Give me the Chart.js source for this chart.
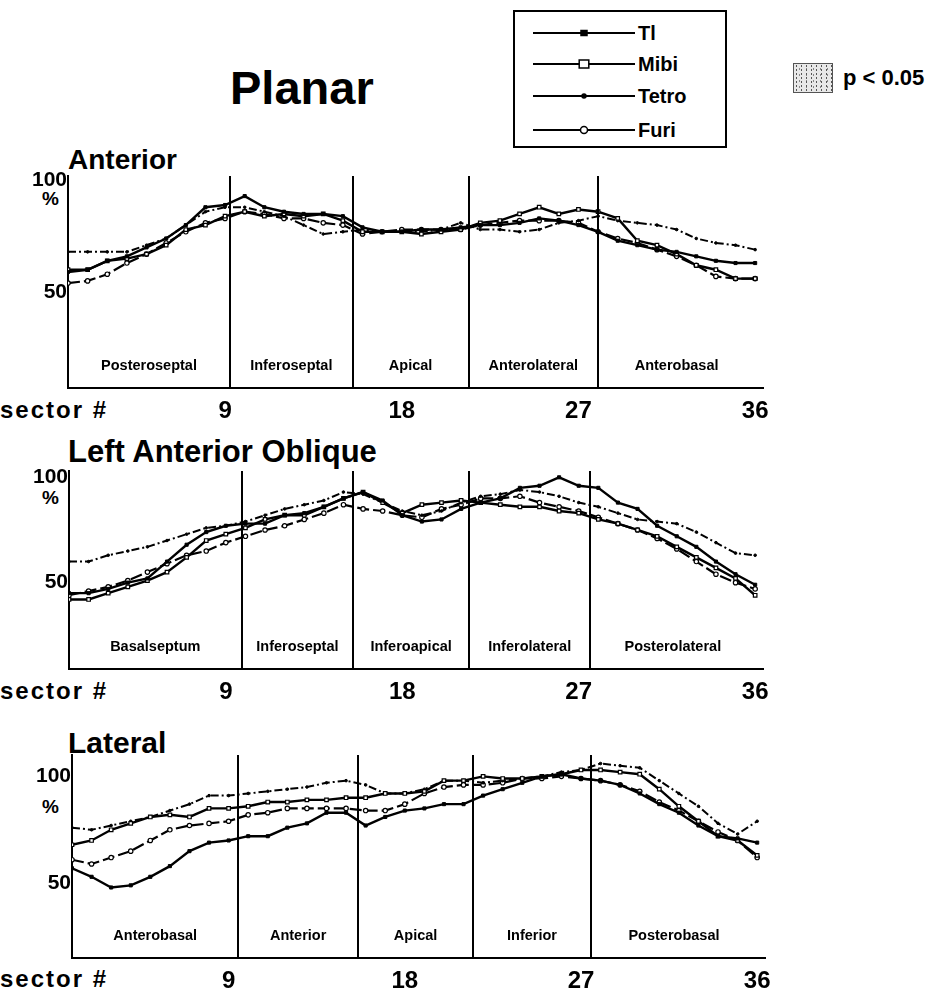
<!DOCTYPE html>
<html>
<head>
<meta charset="utf-8">
<script src="https://cdn.jsdelivr.net/npm/chart.js@4.4.1/dist/chart.umd.min.js"></script>
<style>
  body { margin: 0; width: 926px; height: 990px; background: #fff; position: relative; overflow: hidden;
         font-family: "Liberation Sans", Arial, sans-serif; font-weight: bold; color: #000; }
  .t { position: absolute; white-space: nowrap; line-height: 1; }
  canvas { position: absolute; left: 0; }
  #legend { position: absolute; left: 513px; top: 10px; width: 210px; height: 134px; border: 2px solid #000; }
  #pbox { position: absolute; left: 793px; top: 63px; width: 38px; height: 28px; border: 1px solid #555;
          background-color: #e8e8e8;
          background-image: radial-gradient(#555 0.7px, transparent 1px), radial-gradient(#888 0.6px, transparent 1px);
          background-size: 5px 4px, 7px 6px; background-position: 0 0, 2px 2px; }
</style>
</head>
<body>

<div class="t" style="left:230px;top:64px;font-size:47px">Planar</div>

<div id="legend"></div>
<div id="pbox"></div>
<div class="t" style="left:843px;top:67px;font-size:22px">p &lt; 0.05</div>

<div class="t" style="left:68px;top:146px;font-size:28px">Anterior</div>
<div class="t" style="left:68px;top:436px;font-size:31px">Left Anterior Oblique</div>
<div class="t" style="left:68px;top:728px;font-size:30px">Lateral</div>

<div class="t" style="left:42px;top:189px;font-size:19px">%</div>
<div class="t" style="left:42px;top:488px;font-size:19px">%</div>
<div class="t" style="left:42px;top:797px;font-size:19px">%</div>

<div class="t" style="left:0px;top:398px;font-size:24px;letter-spacing:2px">sector #</div>
<div class="t" style="left:0px;top:679px;font-size:24px;letter-spacing:2px">sector #</div>
<div class="t" style="left:0px;top:967px;font-size:24px;letter-spacing:2px">sector #</div>

<canvas id="anterior"></canvas>
<canvas id="lao"></canvas>
<canvas id="lateral"></canvas>

<script>
// sector numbers and axis ticks
const sectors = [1,2,3,4,5,6,7,8,9,10,11,12,13,14,15,16,17,18,19,20,21,22,23,24,25,26,27,28,29,30,31,32,33,34,35,36];
const sectorTicks = [9, 18, 27, 36];
const percentTicks = [50, 100];
const seriesNames = ["Tl", "Mibi", "Tetro", "Furi"];

// Anterior
const anteriorTl    = [59,60,64,66,70,74,80,88,89,93,88,86,85,85,84,79,77,77,78,78,79,80,80,81,83,82,80,77,73,71,69,68,66,64,63,63];
const anteriorMibi  = [60,60,64,65,67,71,78,80,84,86,84,85,84,85,82,77,77,77,76,77,78,81,82,85,88,85,87,86,83,73,71,67,62,60,56,56];
const anteriorTetro = [68,68,68,68,71,74,80,86,88,88,86,84,80,76,77,78,77,77,77,78,81,78,78,77,78,81,82,84,82,81,80,78,74,72,71,69];
const anteriorFuri  = [54,55,58,63,67,72,77,81,83,86,85,83,83,81,80,76,77,78,78,78,78,80,81,82,82,82,81,77,74,72,69,66,62,57,56,56];
const anteriorBounds = [9.25, 15.5, 21.4, 28];
const anteriorRegions = ["Posteroseptal", "Inferoseptal", "Apical", "Anterolateral", "Anterobasal"];

// Left Anterior Oblique
const laoTl    = [45,45,47,50,52,60,68,74,77,78,78,82,83,86,90,93,89,82,79,80,85,88,90,95,96,100,96,95,88,85,77,72,67,60,54,49];
const laoMibi  = [42,42,45,48,51,55,62,70,73,76,80,82,82,86,90,93,88,83,87,88,89,88,87,86,86,84,83,80,78,75,72,67,62,57,52,44];
const laoTetro = [60,60,63,65,67,70,73,76,77,79,82,85,87,89,93,92,88,84,82,84,88,91,92,94,93,91,88,86,83,80,79,78,74,69,64,63];
const laoFuri  = [44,46,48,51,55,59,63,65,69,72,75,77,80,83,87,85,84,82,81,85,87,90,90,91,88,86,84,81,78,75,71,66,60,54,50,47];
const laoBounds = [9.8, 15.5, 21.4, 27.6];
const laoRegions = ["Basalseptum", "Inferoseptal", "Inferoapical", "Inferolateral", "Posterolateral"];

// Lateral
const lateralTl    = [57,53,48,49,53,58,65,69,70,72,72,76,78,83,83,77,81,84,85,87,87,91,94,97,100,101,99,98,96,92,87,83,77,72,71,69];
const lateralMibi  = [68,70,75,78,81,82,81,85,85,86,88,88,89,89,90,90,92,92,93,98,98,100,99,99,100,101,103,103,102,101,94,86,79,72,70,63];
const lateralTetro = [76,75,77,79,81,84,87,91,91,92,93,94,95,97,98,96,92,92,94,98,98,97,98,99,100,102,103,106,105,104,98,92,86,78,73,79];
const lateralFuri  = [61,59,62,65,70,75,77,78,79,82,83,85,85,85,85,84,84,87,92,95,96,96,97,99,99,100,99,98,96,93,88,84,79,74,70,62];
const lateralBounds = [9.5, 15.6, 21.5, 27.5];
const lateralRegions = ["Anterobasal", "Anterior", "Apical", "Inferior", "Posterobasal"];

const FONT = '"Liberation Sans", Arial, sans-serif';

const styles = {
  Tl:    { borderWidth: 2.4, borderDash: [],          pointStyle: "rect",   pointRadius: 2.2, pointBackgroundColor: "#000", pointBorderWidth: 1 },
  Mibi:  { borderWidth: 2.4, borderDash: [],          pointStyle: "rect",   pointRadius: 2.5, pointBackgroundColor: "#fff", pointBorderWidth: 1.2 },
  Tetro: { borderWidth: 2,   borderDash: [8, 3, 2, 3], pointStyle: "circle", pointRadius: 1.3, pointBackgroundColor: "#000", pointBorderWidth: 1 },
  Furi:  { borderWidth: 2.2, borderDash: [12, 4],     pointStyle: "circle", pointRadius: 2.2, pointBackgroundColor: "#fff", pointBorderWidth: 1.2 }
};

// vertical separators and region names
const regionPlugin = {
  id: "regions",
  afterDatasetsDraw(chart, args, opts) {
    const { ctx, chartArea: a, scales: { x } } = chart;
    ctx.save();
    ctx.strokeStyle = "#000";
    ctx.lineWidth = 2;
    opts.bounds.forEach(b => {
      const px = Math.round(x.getPixelForValue(b));
      ctx.beginPath(); ctx.moveTo(px, a.top); ctx.lineTo(px, a.bottom); ctx.stroke();
    });
    const edges = [sectors[0]].concat(opts.bounds, [sectors[sectors.length - 1]]);
    ctx.fillStyle = "#000";
    ctx.font = "bold 14.5px " + FONT;
    ctx.textAlign = "center";
    ctx.textBaseline = "middle";
    opts.names.forEach((n, i) => {
      const cx = (x.getPixelForValue(edges[i]) + x.getPixelForValue(edges[i + 1])) / 2;
      ctx.fillText(n, cx, a.bottom - 22);
    });
    ctx.restore();
  }
};

function makePanel(id, g, series, bounds, names) {
  const padTop = 20, xAxisH = 45;
  const canvas = document.getElementById(id);
  canvas.width = 926;
  canvas.height = padTop + (g.bottom - g.top) + xAxisH;
  canvas.style.top = (g.top - padTop) + "px";

  const datasets = seriesNames.map((name, k) => Object.assign({
    label: name,
    data: series[k].map((v, i) => ({ x: sectors[i], y: v })),
    borderColor: "#000",
    pointBorderColor: "#000",
    tension: 0,
    fill: false
  }, styles[name]));

  new Chart(canvas, {
    type: "line",
    data: { datasets },
    options: {
      responsive: false,
      animation: false,
      devicePixelRatio: 1,
      layout: { padding: { top: padTop, left: 0, right: 926 - g.right, bottom: 0 } },
      plugins: { legend: { display: false }, tooltip: { enabled: false }, regions: { bounds, names } },
      scales: {
        x: {
          type: "linear", min: sectors[0], max: 36.4,
          grid: { display: false, drawTicks: false },
          border: { display: true, color: "#000", width: 2 },
          afterBuildTicks: s => { s.ticks = sectorTicks.map(v => ({ value: v })); },
          afterFit: s => { s.height = xAxisH; },
          ticks: { color: "#000", font: { family: FONT, size: 24, weight: "bold" }, padding: 9, maxRotation: 0, autoSkip: false }
        },
        y: {
          min: g.yMin, max: g.yMax,
          grid: { display: false, drawTicks: false },
          border: { display: true, color: "#000", width: 2 },
          afterBuildTicks: s => { s.ticks = percentTicks.map(v => ({ value: v })); },
          afterFit: s => { s.width = g.left; },
          ticks: { color: "#000", font: { family: FONT, size: 21, weight: "bold" }, padding: 1 }
        }
      }
    },
    plugins: [regionPlugin]
  });
}

makePanel("anterior", { left: 68, right: 763, top: 175.5, bottom: 388, yMin: 7, yMax: 102 },
  [anteriorTl, anteriorMibi, anteriorTetro, anteriorFuri], anteriorBounds, anteriorRegions);
makePanel("lao", { left: 69, right: 763, top: 470.5, bottom: 669, yMin: 9, yMax: 103 },
  [laoTl, laoMibi, laoTetro, laoFuri], laoBounds, laoRegions);
makePanel("lateral", { left: 72, right: 765, top: 754.5, bottom: 958, yMin: 15, yMax: 110 },
  [lateralTl, lateralMibi, lateralTetro, lateralFuri], lateralBounds, lateralRegions);

// legend: line sample with marker, then name
const legend = document.getElementById("legend");
const rowY = [21, 52, 84, 118];
seriesNames.forEach((name, k) => {
  const st = styles[name];
  const svg = document.createElementNS("http://www.w3.org/2000/svg", "svg");
  svg.setAttribute("width", "110"); svg.setAttribute("height", "14");
  svg.style.cssText = "position:absolute;left:18px;top:" + (rowY[k] - 7) + "px";
  const ln = document.createElementNS(svg.namespaceURI, "line");
  ln.setAttribute("x1", "0"); ln.setAttribute("x2", "102"); ln.setAttribute("y1", "7"); ln.setAttribute("y2", "7");
  ln.setAttribute("stroke", "#000"); ln.setAttribute("stroke-width", "2");
  svg.appendChild(ln);
  let m;
  if (st.pointStyle === "rect") {
    m = document.createElementNS(svg.namespaceURI, "rect");
    const r = name === "Mibi" ? 4 : 2.5;
    m.setAttribute("x", 51 - r * 1.2); m.setAttribute("y", 7 - r); m.setAttribute("width", r * 2.4); m.setAttribute("height", r * 2);
  } else {
    m = document.createElementNS(svg.namespaceURI, "circle");
    m.setAttribute("cx", "51"); m.setAttribute("cy", "7"); m.setAttribute("r", name === "Furi" ? "3.5" : "2");
  }
  m.setAttribute("fill", st.pointBackgroundColor); m.setAttribute("stroke", "#000"); m.setAttribute("stroke-width", "1.5");
  svg.appendChild(m);
  legend.appendChild(svg);
  const tx = document.createElement("div");
  tx.className = "t";
  tx.style.cssText = "left:123px;top:" + (rowY[k] - 10) + "px;font-size:20px";
  tx.textContent = name;
  legend.appendChild(tx);
});
</script>
</body>
</html>
